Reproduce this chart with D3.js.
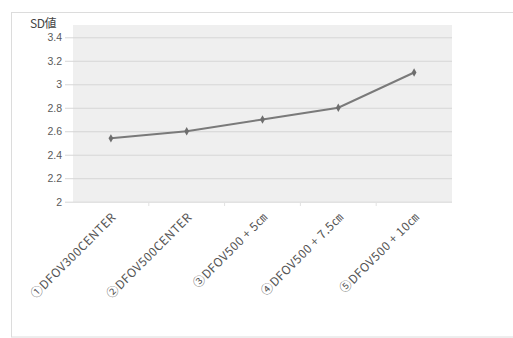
<!DOCTYPE html>
<html>
<head>
<meta charset="utf-8">
<script src="https://cdn.jsdelivr.net/npm/d3@7"></script>
<style>
  html, body { margin: 0; padding: 0; background: #fff; }
  svg { display: block; }
</style>
</head>
<body>
<svg id="chart" width="513" height="338"></svg>
<script>
// Categories, values and tick labels
const categories = [
  "①DFOV300CENTER",
  "②DFOV500CENTER",
  "③DFOV500 + 5㎝",
  "④DFOV500 + 7.5㎝",
  "⑤DFOV500 + 10㎝"
];
const sdValues = [2.54, 2.60, 2.70, 2.80, 3.10];
const yTicks = [2, 2.2, 2.4, 2.6, 2.8, 3, 3.2, 3.4];
const yTitle = "SD値";

const svg = d3.select("#chart");
const font = "'Liberation Sans', Arial, sans-serif";
const cjkFont = "'Noto Sans CJK JP', 'Liberation Sans', sans-serif";

// Outer chart frame
svg.append("rect")
  .attr("x", 11.5).attr("y", 12.5)
  .attr("width", 520).attr("height", 324.5)
  .attr("fill", "#fff")
  .attr("stroke", "#dcdcdc").attr("stroke-width", 1);

const plot = { left: 73, right: 452, top: 25, bottom: 202 };
const tickLen = 8;

const x = d3.scaleBand().domain(categories).range([plot.left, plot.right]);
const y = d3.scaleLinear().domain([2, 3.4]).range([201.7, 37.3]);

// Plot background
svg.append("rect")
  .attr("x", plot.left).attr("y", plot.top)
  .attr("width", plot.right - plot.left).attr("height", plot.bottom - plot.top)
  .attr("fill", "#efefef");

// Y axis: gridlines run from the outer tick mark across the plot
const yAxis = d3.axisLeft(y)
  .tickValues(yTicks)
  .tickSize(-(plot.right - plot.left + tickLen))
  .tickFormat(d3.format("~g"));

const gy = svg.append("g")
  .attr("transform", `translate(${plot.left - tickLen},0)`)
  .call(yAxis);
gy.select(".domain").remove();
gy.selectAll(".tick line")
  .attr("stroke", "#d6d6d6")
  .attr("stroke-width", 1);
gy.selectAll(".tick text")
  .attr("x", -3)
  .attr("fill", "#5a5a5a")
  .attr("font-family", font)
  .attr("font-size", 10.5);

// X axis tick marks at category boundaries
const boundaries = categories.map(c => x(c));
svg.append("g").selectAll("line")
  .data(boundaries.slice(1))
  .join("line")
  .attr("x1", d => d).attr("x2", d => d)
  .attr("y1", plot.bottom).attr("y2", plot.bottom + 4)
  .attr("stroke", "#e2e2e2");

// Rotated category labels
svg.append("g").selectAll("text")
  .data(categories)
  .join("text")
  .attr("transform", d => `translate(${x(d) + x.bandwidth() / 2 + 3},${plot.bottom + 13}) rotate(-45)`)
  .attr("text-anchor", "end")
  .attr("dy", "0.35em")
  .attr("fill", "#555")
  .attr("font-family", cjkFont)
  .attr("font-size", 12)
  .attr("letter-spacing", 0.5)
  .text(d => d);

// Axis title
svg.append("text")
  .attr("x", 30).attr("y", 28)
  .attr("fill", "#444")
  .attr("font-family", cjkFont)
  .attr("font-size", 12)
  .attr("letter-spacing", -0.5)
  .text(yTitle);

// Series line
const line = d3.line()
  .x((d, i) => x(categories[i]) + x.bandwidth() / 2)
  .y(d => y(d));

svg.append("path")
  .datum(sdValues)
  .attr("d", line)
  .attr("fill", "none")
  .attr("stroke", "#7a7a7a")
  .attr("stroke-width", 2);

// Markers
svg.append("g").selectAll("path")
  .data(sdValues)
  .join("path")
  .attr("transform", (d, i) => `translate(${x(categories[i]) + x.bandwidth() / 2},${y(d)})`)
  .attr("d", d3.symbol(d3.symbolDiamond, 20))
  .attr("fill", "#6e6e6e");
</script>
</body>
</html>
